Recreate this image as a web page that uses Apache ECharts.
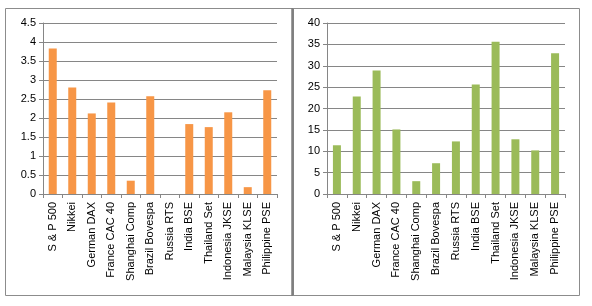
<!DOCTYPE html>
<html>
<head>
<meta charset="utf-8">
<script src="https://cdn.jsdelivr.net/npm/echarts@6/dist/echarts.min.js"></script>
<style>
  html, body { margin: 0; padding: 0; background: #fff; }
  #chart { width: 592px; height: 306px; }
</style>
</head>
<body>
<div id="chart"></div>
<script>
// index names, same for both panels
var markets = ['S & P 500', 'Nikkei', 'German DAX', 'France CAC 40', 'Shanghai Comp',
  'Brazil Bovespa', 'Russia RTS', 'India BSE', 'Thailand Set', 'Indonesia JKSE',
  'Malaysia KLSE', 'Philippine PSE'];

// left panel (orange)
var leftValues = [3.83, 2.80, 2.12, 2.41, 0.35, 2.57, 0, 1.84, 1.76, 2.15, 0.18, 2.73];
// right panel (green)
var rightValues = [11.4, 22.8, 28.9, 15.1, 3.0, 7.2, 12.3, 25.6, 35.6, 12.8, 10.2, 32.9];

var leftTicks = { min: 0, max: 4.5, interval: 0.5 };
var rightTicks = { min: 0, max: 40, interval: 5 };

var myChart = echarts.init(document.getElementById('chart'));

var lineGray = '#868686';
var font = 'Liberation Sans';

function catAxis(idx) {
  return {
    type: 'category',
    gridIndex: idx,
    data: markets,
    axisLine: { lineStyle: { color: lineGray, width: 1 } },
    axisTick: { show: true, alignWithLabel: false, length: 4, lineStyle: { color: lineGray } },
    axisLabel: {
      rotate: 90, interval: 0, margin: 8,
      color: '#000', fontSize: 11, fontFamily: font
    }
  };
}

function valAxis(idx, t) {
  return {
    type: 'value',
    gridIndex: idx,
    min: t.min, max: t.max, interval: t.interval,
    axisLine: { show: true, lineStyle: { color: lineGray } },
    axisTick: { show: true, length: 4, lineStyle: { color: lineGray } },
    axisLabel: { color: '#000', fontSize: 11, fontFamily: font, margin: 7 },
    splitLine: { lineStyle: { color: lineGray, width: 1 } }
  };
}

var option = {
  animation: false,
  grid: [
    { left: 43, right: 315, top: 23, bottom: 112 },
    { left: 327, right: 27, top: 23, bottom: 112 }
  ],
  xAxis: [catAxis(0), catAxis(1)],
  yAxis: [valAxis(0, leftTicks), valAxis(1, rightTicks)],
  graphic: [
    { type: 'rect', shape: { x: 5.5, y: 8.5, width: 287, height: 287 },
      style: { fill: 'none', stroke: '#8c8c8c', lineWidth: 1 } },
    { type: 'rect', shape: { x: 293.5, y: 8.5, width: 286, height: 287 },
      style: { fill: 'none', stroke: '#8c8c8c', lineWidth: 1 } },
    { type: 'line', shape: { x1: 292.5, y1: 8, x2: 292.5, y2: 296 },
      style: { stroke: '#7f7f7f', lineWidth: 2.5 } }
  ],
  series: [
    {
      type: 'bar', xAxisIndex: 0, yAxisIndex: 0,
      data: leftValues, barWidth: 8,
      itemStyle: { color: '#F79646' }
    },
    {
      type: 'bar', xAxisIndex: 1, yAxisIndex: 1,
      data: rightValues, barWidth: 8,
      itemStyle: { color: '#9BBB59' }
    }
  ]
};

myChart.setOption(option);
</script>
</body>
</html>
